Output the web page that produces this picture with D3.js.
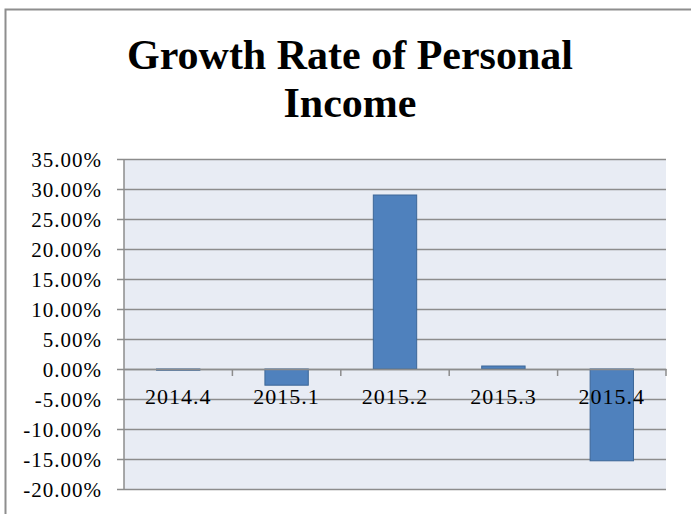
<!DOCTYPE html>
<html>
<head>
<meta charset="utf-8">
<script src="https://cdn.jsdelivr.net/npm/d3@7"></script>
<style>
  html, body { margin: 0; padding: 0; background: #fff; }
  svg { display: block; }
</style>
</head>
<body>
<div id="chart"></div>
<script>
var categories = ["2014.4", "2015.1", "2015.2", "2015.3", "2015.4"];
var growth = [-0.2, -2.7, 29.0, 0.5, -15.3];
var yTicks = [35, 30, 25, 20, 15, 10, 5, 0, -5, -10, -15, -20];
var titleLines = ["Growth Rate of Personal", "Income"];

var W = 691, H = 514;
var plot = { left: 124, right: 666, top: 159, bottom: 489 };

var svg = d3.select("#chart").append("svg")
    .attr("width", W).attr("height", H);

// outer chart border
svg.append("rect")
    .attr("x", 5.5).attr("y", 9.5)
    .attr("width", W + 10).attr("height", H + 10)
    .attr("fill", "#fff")
    .attr("stroke", "#8e8e8e").attr("stroke-width", 2);

// title
svg.selectAll(".title").data(titleLines).enter()
    .append("text")
    .attr("class", "title")
    .attr("x", 350)
    .attr("y", function(d, i) { return 69 + i * 48; })
    .attr("text-anchor", "middle")
    .style("font-family", "'Liberation Serif', serif")
    .style("font-weight", "bold")
    .style("font-size", "42px")
    .attr("fill", "#000")
    .text(function(d) { return d; });

var y = d3.scaleLinear().domain([-20, 35]).range([plot.bottom, plot.top]);
var xBand = d3.scaleBand().domain(categories).range([plot.left, plot.right]).padding(0);
var x = d3.scaleBand().domain(categories).range([plot.left, plot.right])
    .paddingInner(0.6).paddingOuter(0.3);

// plot background
svg.append("rect")
    .attr("x", plot.left).attr("y", plot.top)
    .attr("width", plot.right - plot.left).attr("height", plot.bottom - plot.top)
    .attr("fill", "#e8ecf4");

// gridlines + y ticks
var yAxis = d3.axisLeft(y)
    .tickValues(yTicks)
    .tickSize(-(plot.right - plot.left))
    .tickSizeOuter(0)
    .tickPadding(22)
    .tickFormat(function(d) { return d.toFixed(2) + "%"; });

var gy = svg.append("g")
    .attr("transform", "translate(" + plot.left + ",0)")
    .call(yAxis);
gy.select(".domain").remove();
gy.selectAll(".tick line")
    .attr("x1", -7)
    .attr("stroke", "#8c8c8c").attr("stroke-width", 1.5);
gy.selectAll(".tick text")
    .attr("dy", "0.36em")
    .style("font-family", "'Liberation Serif', serif")
    .style("font-size", "21px")
    .style("letter-spacing", "1px")
    .attr("fill", "#000");

// left axis line
svg.append("line")
    .attr("x1", plot.left).attr("x2", plot.left)
    .attr("y1", plot.top).attr("y2", plot.bottom)
    .attr("stroke", "#8c8c8c").attr("stroke-width", 1.5);

// bars
svg.selectAll(".bar").data(growth).enter()
    .append("rect")
    .attr("class", "bar")
    .attr("x", function(d, i) { return x(categories[i]); })
    .attr("width", x.bandwidth())
    .attr("y", function(d) { return y(Math.max(0, d)); })
    .attr("height", function(d) { return Math.abs(y(d) - y(0)); })
    .attr("fill", "#4f81bd")
    .attr("stroke", "#3c6797").attr("stroke-width", 1);

// category axis at zero
var xAxis = d3.axisBottom(xBand).tickSize(0).tickFormat("");
var gx = svg.append("g")
    .attr("transform", "translate(0," + y(0) + ")")
    .call(xAxis);
gx.select(".domain").attr("stroke", "#8c8c8c").attr("stroke-width", 1.5);

var bounds = categories.map(function(c) { return xBand(c); }).concat([plot.right]);
svg.selectAll(".xtick").data(bounds.slice(1)).enter()
    .append("line")
    .attr("x1", function(d) { return d; }).attr("x2", function(d) { return d; })
    .attr("y1", y(0)).attr("y2", y(0) + 7)
    .attr("stroke", "#8c8c8c").attr("stroke-width", 1.5);

svg.selectAll(".xlabel").data(categories).enter()
    .append("text")
    .attr("x", function(d) { return xBand(d) + xBand.bandwidth() / 2; })
    .attr("y", y(0) + 35)
    .attr("text-anchor", "middle")
    .style("font-family", "'Liberation Serif', serif")
    .style("font-size", "22px")
    .style("letter-spacing", "1px")
    .attr("fill", "#000")
    .text(function(d) { return d; });
</script>
</body>
</html>
